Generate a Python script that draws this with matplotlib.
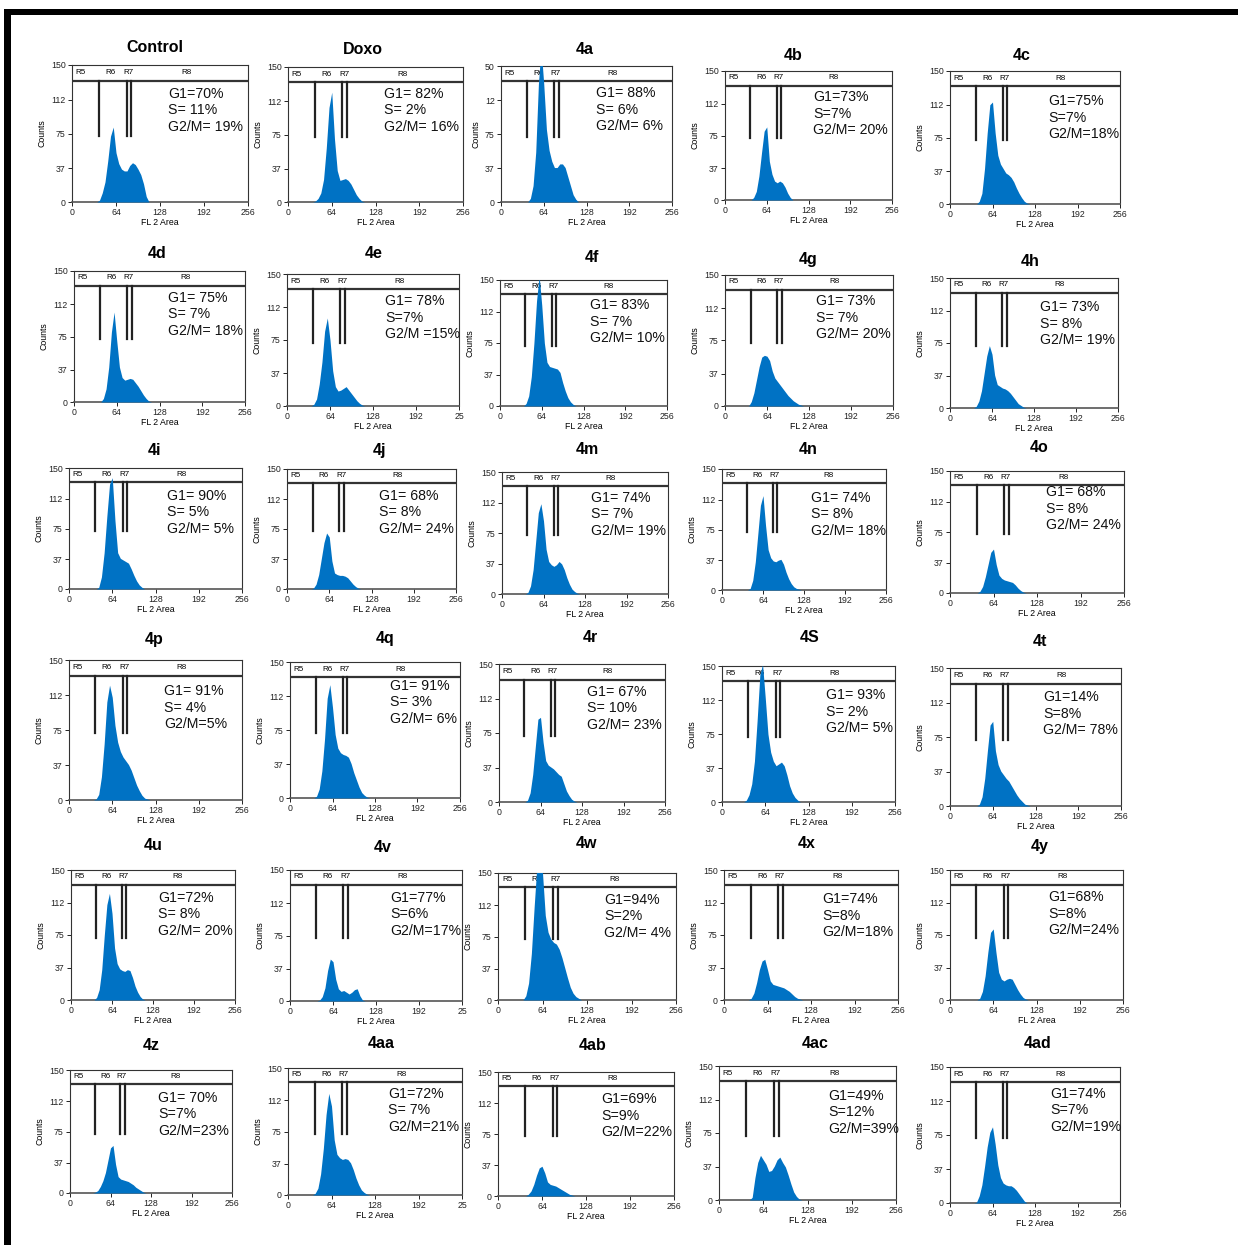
import matplotlib
matplotlib.use('Agg')
import matplotlib.pyplot as plt
from matplotlib.patches import Rectangle
from matplotlib import font_manager

W, H = 1238, 1245

# ---------------- data ----------------
fl2_grid = [28, 32, 36, 40, 44, 48, 52, 56, 60, 64, 68, 72, 76, 80, 84, 88, 92, 96,
            100, 104, 108, 112, 116, 120, 124]

panel_names = ['Control', 'Doxo', '4a', '4b', '4c',
               '4d', '4e', '4f', '4g', '4h',
               '4i', '4j', '4m', '4n', '4o',
               '4p', '4q', '4r', '4S', '4t',
               '4u', '4v', '4w', '4x', '4y',
               '4z', '4aa', '4ab', '4ac', '4ad']

counts_control = [0, 0, 0, 2, 10, 22, 45, 72, 82, 54, 42, 36, 34, 34, 40, 43, 41, 36, 30, 20, 6, 0, 0, 0, 0]
counts_doxo = [0, 0, 0, 1, 4, 10, 25, 60, 105, 122, 70, 35, 24, 25, 26, 24, 20, 14, 8, 4, 1, 0, 0, 0, 0]
counts_4a = [0, 0, 0, 0, 4, 18, 55, 130, 170, 130, 80, 57, 45, 38, 38, 42, 42, 38, 28, 18, 8, 3, 0, 0, 0]
counts_4b = [0, 0, 0, 0, 3, 10, 28, 55, 80, 85, 45, 30, 22, 20, 22, 20, 15, 8, 3, 0, 0, 0, 0, 0, 0]
counts_4c = [0, 0, 0, 0, 3, 12, 40, 80, 112, 115, 80, 55, 45, 40, 35, 33, 30, 25, 18, 12, 7, 3, 1, 0, 0]
counts_4d = [0, 0, 0, 0, 4, 15, 40, 80, 103, 70, 40, 28, 25, 26, 27, 26, 22, 18, 13, 8, 4, 1, 0, 0, 0]
counts_4e = [0, 0, 0, 2, 8, 25, 50, 85, 100, 75, 40, 22, 17, 18, 20, 22, 18, 14, 10, 6, 3, 1, 0, 0, 0]
counts_4f = [0, 0, 0, 3, 12, 35, 75, 125, 155, 120, 75, 52, 47, 46, 45, 44, 40, 28, 18, 10, 5, 2, 0, 0, 0]
counts_4g = [0, 0, 0, 5, 15, 30, 45, 56, 58, 57, 52, 40, 32, 28, 24, 20, 16, 12, 9, 6, 4, 2, 1, 0, 0]
counts_4h = [0, 0, 0, 2, 8, 20, 40, 60, 72, 62, 38, 27, 25, 23, 22, 20, 17, 13, 9, 5, 3, 1, 0, 0, 0]
counts_4i = [0, 0, 0, 0, 2, 15, 45, 90, 130, 138, 85, 45, 38, 36, 34, 32, 25, 17, 10, 5, 2, 0, 0, 0, 0]
counts_4j = [0, 0, 0, 1, 6, 18, 38, 58, 70, 65, 35, 20, 18, 17, 17, 16, 14, 10, 6, 3, 1, 0, 0, 0, 0]
counts_4m = [0, 0, 0, 2, 10, 30, 65, 100, 111, 90, 55, 40, 36, 34, 36, 40, 37, 30, 20, 12, 6, 3, 1, 0, 0]
counts_4n = [0, 0, 0, 0, 2, 12, 35, 70, 105, 117, 80, 50, 40, 36, 35, 37, 38, 32, 22, 14, 8, 4, 2, 1, 0]
counts_4o = [0, 0, 0, 0, 2, 8, 20, 35, 50, 54, 35, 22, 18, 16, 15, 14, 13, 10, 6, 3, 1, 0, 0, 0, 0]
counts_4p = [0, 0, 0, 1, 6, 25, 60, 105, 123, 110, 80, 62, 52, 46, 42, 38, 32, 24, 16, 10, 5, 2, 1, 0, 0]
counts_4q = [0, 0, 0, 2, 10, 30, 65, 110, 125, 100, 70, 55, 50, 48, 47, 45, 38, 28, 20, 12, 6, 3, 1, 0, 0]
counts_4r = [0, 0, 0, 0, 2, 10, 30, 60, 90, 92, 65, 45, 40, 38, 36, 33, 30, 28, 20, 12, 7, 3, 1, 0, 0]
counts_4S = [0, 0, 2, 8, 20, 45, 90, 140, 152, 115, 75, 55, 45, 40, 42, 44, 40, 30, 18, 10, 5, 2, 0, 0, 0]
counts_4t = [0, 0, 0, 0, 2, 10, 30, 60, 88, 92, 60, 45, 38, 34, 30, 27, 22, 17, 12, 8, 5, 2, 1, 0, 0]
counts_4u = [0, 0, 0, 3, 12, 35, 75, 110, 123, 100, 60, 42, 36, 34, 33, 35, 34, 26, 16, 9, 4, 1, 0, 0, 0]
counts_4v = [0, 0, 0, 0, 1, 5, 15, 35, 48, 45, 25, 14, 11, 12, 10, 8, 10, 13, 14, 6, 1, 0, 0, 0, 0]
counts_4w = [0, 0, 0, 5, 20, 55, 110, 160, 170, 150, 100, 80, 72, 68, 66, 60, 50, 38, 26, 15, 8, 4, 2, 0, 0]
counts_4x = [0, 0, 0, 2, 8, 20, 35, 45, 47, 35, 22, 18, 17, 16, 15, 14, 12, 10, 7, 4, 2, 1, 0, 0, 0]
counts_4y = [0, 0, 0, 0, 2, 10, 28, 55, 78, 82, 55, 32, 24, 22, 24, 25, 24, 18, 12, 7, 3, 1, 0, 0, 0]
counts_4z = [0, 0, 0, 1, 3, 8, 15, 25, 40, 55, 58, 35, 20, 17, 16, 15, 14, 12, 10, 7, 5, 3, 1, 0, 0]
counts_4aa = [0, 0, 0, 2, 8, 25, 55, 95, 120, 105, 65, 48, 44, 42, 43, 42, 38, 30, 20, 12, 6, 3, 1, 0, 0]
counts_4ab = [0, 0, 0, 0, 2, 6, 14, 25, 34, 36, 28, 17, 14, 13, 12, 10, 8, 6, 4, 2, 1, 0, 0, 0, 0]
counts_4ac = [0, 0, 0, 0, 0, 3, 25, 42, 50, 45, 40, 32, 33, 38, 45, 48, 42, 37, 28, 18, 9, 4, 1, 0, 0]
counts_4ad = [0, 0, 0, 1, 8, 20, 40, 62, 78, 84, 65, 42, 28, 22, 20, 19, 19, 17, 14, 10, 6, 2, 0, 0, 0]

panel_counts = [counts_control, counts_doxo, counts_4a, counts_4b, counts_4c,
                counts_4d, counts_4e, counts_4f, counts_4g, counts_4h,
                counts_4i, counts_4j, counts_4m, counts_4n, counts_4o,
                counts_4p, counts_4q, counts_4r, counts_4S, counts_4t,
                counts_4u, counts_4v, counts_4w, counts_4x, counts_4y,
                counts_4z, counts_4aa, counts_4ab, counts_4ac, counts_4ad]

g1_labels = ['G1=70%', 'G1= 82%', 'G1= 88%', 'G1=73%', 'G1=75%',
             'G1= 75%', 'G1= 78%', 'G1= 83%', 'G1= 73%', 'G1= 73%',
             'G1= 90%', 'G1= 68%', 'G1= 74%', 'G1= 74%', 'G1= 68%',
             'G1= 91%', 'G1= 91%', 'G1= 67%', 'G1= 93%', 'G1=14%',
             'G1=72%', 'G1=77%', 'G1=94%', 'G1=74%', 'G1=68%',
             'G1= 70%', 'G1=72%', 'G1=69%', 'G1=49%', 'G1=74%']
s_labels = ['S= 11%', 'S= 2%', 'S= 6%', 'S=7%', 'S=7%',
            'S= 7%', 'S=7%', 'S= 7%', 'S= 7%', 'S= 8%',
            'S= 5%', 'S= 8%', 'S= 7%', 'S= 8%', 'S= 8%',
            'S= 4%', 'S= 3%', 'S= 10%', 'S= 2%', 'S=8%',
            'S= 8%', 'S=6%', 'S=2%', 'S=8%', 'S=8%',
            'S=7%', 'S= 7%', 'S=9%', 'S=12%', 'S=7%']
g2m_labels = ['G2/M= 19%', 'G2/M= 16%', 'G2/M= 6%', 'G2/M= 20%', 'G2/M=18%',
              'G2/M= 18%', 'G2/M =15%', 'G2/M= 10%', 'G2/M= 20%', 'G2/M= 19%',
              'G2/M= 5%', 'G2/M= 24%', 'G2/M= 19%', 'G2/M= 18%', 'G2/M= 24%',
              'G2/M=5%', 'G2/M= 6%', 'G2/M= 23%', 'G2/M= 5%', 'G2/M= 78%',
              'G2/M= 20%', 'G2/M=17%', 'G2/M= 4%', 'G2/M=18%', 'G2/M=24%',
              'G2/M=23%', 'G2/M=21%', 'G2/M=22%', 'G2/M=39%', 'G2/M=19%']

x_tick_values = [0, 64, 128, 192, 256]
x_tick_labels = ['0', '64', '128', '192', '256']
y_tick_values = [0, 37, 75, 112, 150]
y_tick_labels = ['0', '37', '75', '112', '150']
y_tick_labels_4a = ['0', '37', '75', '12', '50']

region_labels = ['R5', 'R6', 'R7', 'R8']
region_label_x = [13, 56, 82, 167]
gate_x = [39, 79.5, 86.5]
gate_bottom = 72
header_y = 133

# ---------------- layout (pixels) ----------------
boxes = [(72, 248, 65, 202), (288, 463, 67, 202), (501, 672, 66, 202), (725, 892, 71, 200), (950, 1120, 71, 204),
         (74, 245, 271, 402), (287, 459, 274, 406), (500, 667, 280, 406), (725, 893, 275, 406), (950, 1118, 278, 408),
         (69, 242, 468, 589), (287, 456, 469, 589), (502, 668, 472, 594), (722, 886, 469, 590), (950, 1124, 471, 593),
         (69, 242, 660, 800), (290, 460, 662, 798), (499, 665, 664, 802), (722, 895, 666, 802), (950, 1121, 668, 806),
         (71, 235, 870, 1000), (290, 462, 870, 1001), (498, 676, 873, 1000), (724, 898, 870, 1000), (950, 1123, 870, 1000),
         (70, 232, 1070, 1193), (288, 462, 1068, 1195), (498, 674, 1072, 1196), (719, 896, 1066, 1200), (950, 1120, 1067, 1203)]
title_pos = [(155, 47), (363, 50), (585, 49), (793, 55), (1022, 55),
             (157, 253), (374, 253), (592, 257), (808, 259), (1030, 262),
             (154, 451), (380, 451), (587, 449), (808, 449), (1039, 447),
             (154, 640), (385, 638), (590, 638), (810, 638), (1040, 641),
             (153, 846), (383, 848), (586, 844), (807, 843), (1040, 846),
             (151, 1046), (381, 1043), (593, 1046), (815, 1044), (1038, 1044)]
text_pos = [(168, 94), (384, 94), (596, 93), (813, 97), (1048, 101),
            (168, 298), (385, 301), (590, 305), (816, 301), (1040, 307),
            (167, 496), (379, 496), (591, 498), (811, 498), (1046, 492),
            (164, 691), (390, 686), (587, 692), (826, 695), (1043, 697),
            (158, 898), (390, 898), (604, 900), (822, 899), (1048, 897),
            (158, 1098), (388, 1094), (601, 1099), (828, 1096), (1050, 1094)]

BLUE = '#0072C4'
installed = {f.name for f in font_manager.fontManager.ttflist}
SMALL_FONT = ['Liberation Sans Narrow', 'Liberation Sans'] if 'Liberation Sans Narrow' in installed else ['Liberation Sans']
plt.rcParams['font.family'] = ['Liberation Sans', 'DejaVu Sans']

fig = plt.figure(figsize=(W / 100, H / 100), dpi=100)
fig.patch.set_facecolor('white')


def fx(px):
    return px / W


def fy(py):
    return 1 - py / H


# black frame lines (top and left)
fig.add_artist(Rectangle((fx(5), fy(15)), fx(1238) - fx(5), 6 / H, transform=fig.transFigure,
                         facecolor='black', edgecolor='none'))
fig.add_artist(Rectangle((fx(4), 0), 7 / W, fy(9), transform=fig.transFigure,
                         facecolor='black', edgecolor='none'))

for i, name in enumerate(panel_names):
    l, r, t, b = boxes[i]
    ax = fig.add_axes([fx(l), fy(b), (r - l) / W, (b - t) / H])
    ax.set_xlim(0, 256)
    ax.set_ylim(0, 150)
    ax.fill_between(fl2_grid, panel_counts[i], 0, color=BLUE, lw=0, zorder=3)
    ax.axhline(header_y, color='#333333', lw=1.6, zorder=2)
    for gx in gate_x:
        ax.plot([gx, gx], [gate_bottom, header_y], color='#222222', lw=1.6, zorder=2)
    for lab, lx in zip(region_labels, region_label_x):
        ax.text(lx, 142, lab, fontsize=5.8, ha='center', va='center', zorder=2, family=SMALL_FONT)
    ax.set_xticks(x_tick_values)
    xl = list(x_tick_labels)
    if name in ('4e', '4v', '4aa'):
        xl[-1] = '25'
    ax.set_xticklabels(xl, family=SMALL_FONT)
    ax.set_yticks(y_tick_values)
    ax.set_yticklabels(y_tick_labels_4a if name == '4a' else y_tick_labels, family=SMALL_FONT)
    ax.tick_params(direction='out', length=3, width=0.7, labelsize=6.3, pad=1.5, colors='#222222')
    for sp in ax.spines.values():
        sp.set_linewidth(0.8)
        sp.set_color('#333333')
    ax.spines['bottom'].set_linewidth(1.2)
    ax.spines['bottom'].set_color('#555555')
    ax.set_xlabel('FL 2 Area', fontsize=6.3, labelpad=0.5, family=SMALL_FONT)
    ax.set_ylabel('Counts', fontsize=6.3, labelpad=3, family=SMALL_FONT)

    tx, ty = text_pos[i]
    for k, s in enumerate([g1_labels[i], s_labels[i], g2m_labels[i]]):
        fig.text(fx(tx), fy(ty + k * 16.5), s, fontsize=10.2, va='center', ha='left', color='#111111')
    px, py = title_pos[i]
    fig.text(fx(px), fy(py), name, fontsize=11.5, weight='bold', ha='center', va='center')

fig.savefig('out.png', dpi=100, facecolor='white')
